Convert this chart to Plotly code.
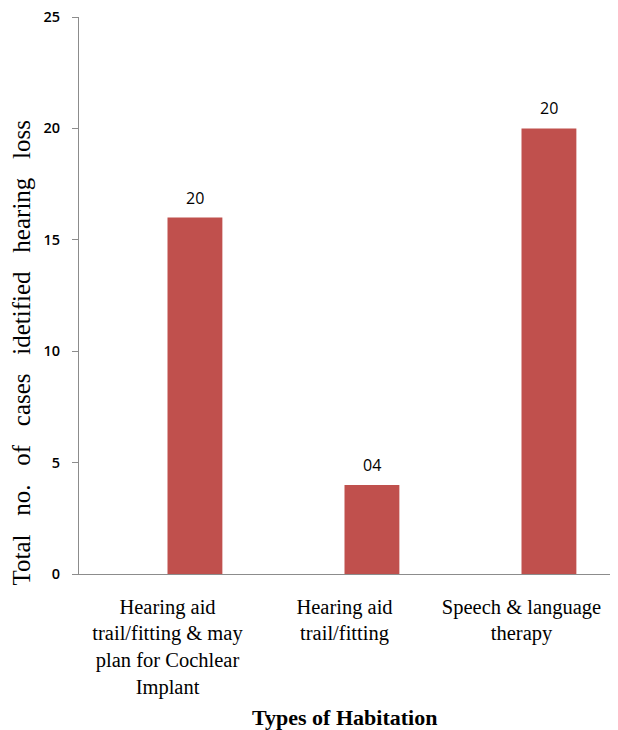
import plotly.graph_objects as go

categories = [
    "Hearing aid<br>trail/fitting & may<br>plan for Cochlear<br>Implant",
    "Hearing aid<br>trail/fitting",
    "Speech & language<br>therapy",
]
values = [16, 4, 20]
bar_labels = ["20", "04", "20"]
y_ticks = [0, 5, 10, 15, 20, 25]

BAR_W = 0.31
xs = list(range(len(values)))

fig = go.Figure()
fig.add_trace(go.Bar(
    x=xs,
    y=values,
    marker=dict(color="#C0504D", line=dict(width=0)),
    offset=0,
    width=BAR_W,
))

label_anns = [
    dict(text=t, x=x + BAR_W / 2, y=v, xref="x", yref="y",
         xanchor="center", yanchor="bottom", yshift=7, showarrow=False,
         font=dict(family="Open Sans", size=16, color="black"))
    for x, v, t in zip(xs, values, bar_labels)
]

sp = "   "
ytitle = sp.join(["Total", "no.", "of", "cases", "idetified", "hearing", "loss"])

fig.update_layout(
    width=618, height=730,
    margin=dict(l=79, r=8, t=17, b=156),
    paper_bgcolor="white", plot_bgcolor="white",
    showlegend=False,
    xaxis=dict(
        range=[-0.5, 2.5],
        tickvals=xs,
        ticktext=categories,
        showline=True, linecolor="#8c8c8c", linewidth=1.2,
        showgrid=False, zeroline=False,
        ticks="", ticklabelstandoff=14,
        tickfont=dict(family="Liberation Serif", size=20.5, color="black"),
    ),
    yaxis=dict(
        range=[0, 25],
        tickvals=y_ticks,
        showline=True, linecolor="#8c8c8c", linewidth=1.2,
        showgrid=False, zeroline=False,
        ticks="outside", ticklen=6, tickcolor="#8c8c8c",
        tickfont=dict(family="Open Sans", size=14.5, color="black", weight=600),
        ticklabelstandoff=9,
    ),
    annotations=label_anns + [
        dict(text=ytitle,
             xref="paper", yref="paper", x=-0.108, y=0.397,
             xanchor="center", yanchor="middle", textangle=-90, showarrow=False,
             font=dict(family="Liberation Serif", size=25, color="black")),
        dict(text="<b>Types of Habitation</b>",
             xref="paper", yref="paper", x=0.5, y=-0.2585,
             xanchor="center", yanchor="middle", showarrow=False,
             font=dict(family="Liberation Serif", size=22, color="black")),
    ],
)

fig.write_html("out.html")
